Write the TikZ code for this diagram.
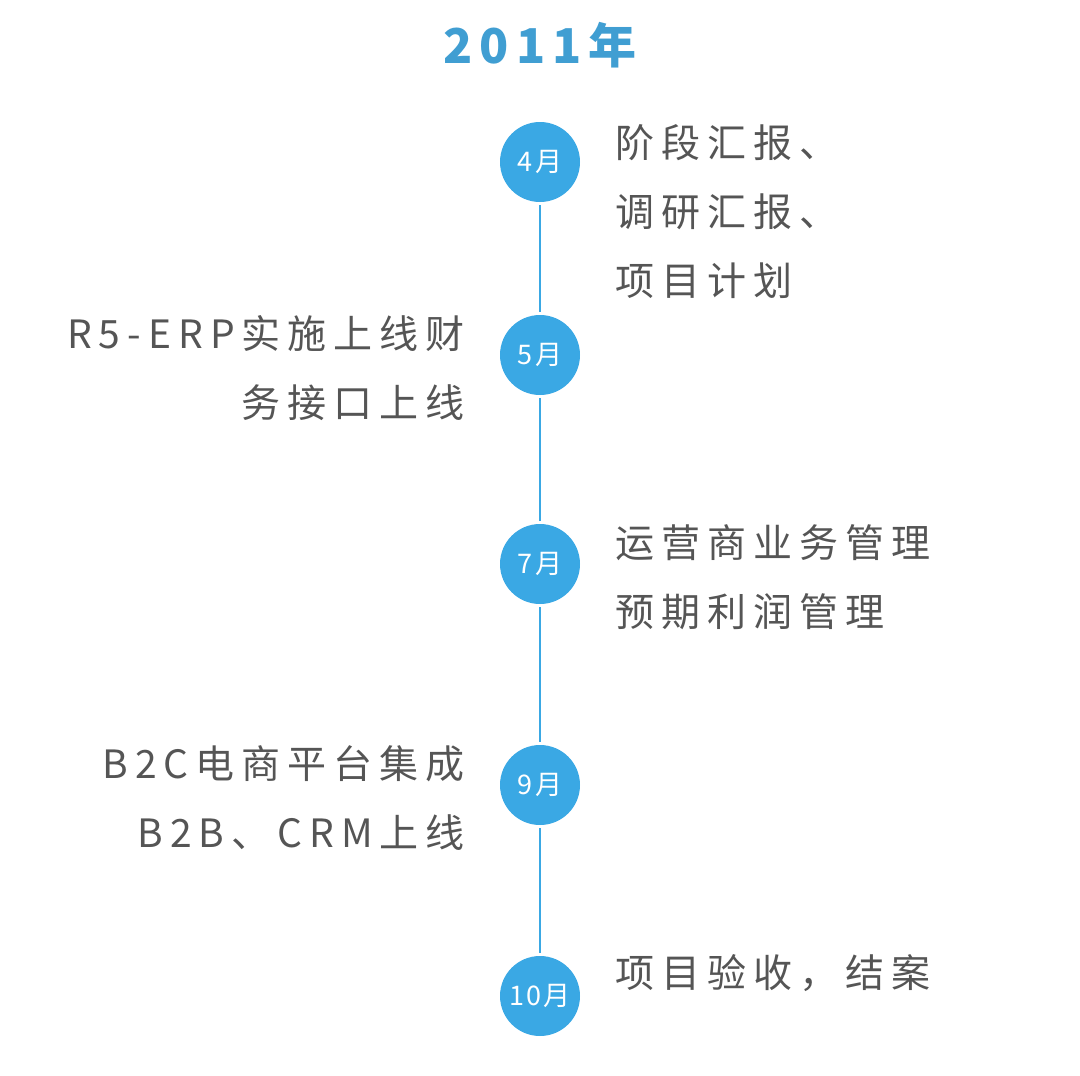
\documentclass[tikz,border=0pt]{standalone}
\usepackage{fontspec}
\usepackage{tikz}
\usetikzlibrary{positioning}
\newfontfamily\cjk[LetterSpace=18]{Noto Sans CJK SC}
\newfontfamily\titlecjk[LetterSpace=15]{Noto Sans CJK SC}
\newfontfamily\dotcjk[LetterSpace=8]{Noto Sans CJK SC}
\definecolor{dotblue}{RGB}{58,168,228}
\definecolor{titleblue}{RGB}{64,158,210}
\definecolor{textgray}{RGB}{85,85,85}
\tikzset{
  month/.style={circle, fill=dotblue, minimum size=80pt, inner sep=0pt, text=white,
    font=\dotcjk\fontsize{27}{27}\selectfont},
  item/.style={inner sep=0pt, text=textgray, font=\cjk\fontsize{39}{69}\selectfont},
  rline/.style={dotblue, line width=2pt, shorten <=3pt, shorten >=3pt}
}

\begin{document}
\begin{tikzpicture}[x=1pt, y=-1pt]
    \useasboundingbox (0,0) rectangle (1080,1076);
    \node[text=titleblue, inner sep=0pt, font=\titlecjk\bfseries\fontsize{48}{48}\selectfont] (title) at (540,45) {2011年};

    \node[month] (m4) at (540,162) {4月};
    \node[month] (m5) at (540,355) {5月};
    \node[month] (m7) at (540,564) {7月};
    \node[month] (m9) at (540,785) {9月};
    \node[month] (m10) at (540,996) {10月};
    \foreach \a/\b in {m4/m5, m5/m7, m7/m9, m9/m10}
        \draw[rline] (\a) -- (\b);

    % base anchor sits on the last line
    \node[item, align=left, anchor=base west] (t4) at (615,295) {阶段汇报、\\调研汇报、\\项目计划};
    \node[item, align=right, anchor=base east] (t5) at (465,417) {R5-ERP实施上线财\\务接口上线};
    \node[item, align=left, anchor=base west] (t7) at (615,626) {运营商业务管理\\预期利润管理};
    \node[item, align=right, anchor=base east] (t9) at (465,847) {B2C电商平台集成\\B2B、CRM上线};
    \node[item, align=left, anchor=base west] (t10) at (615,987) {项目验收，结案};
\end{tikzpicture}
\end{document}
